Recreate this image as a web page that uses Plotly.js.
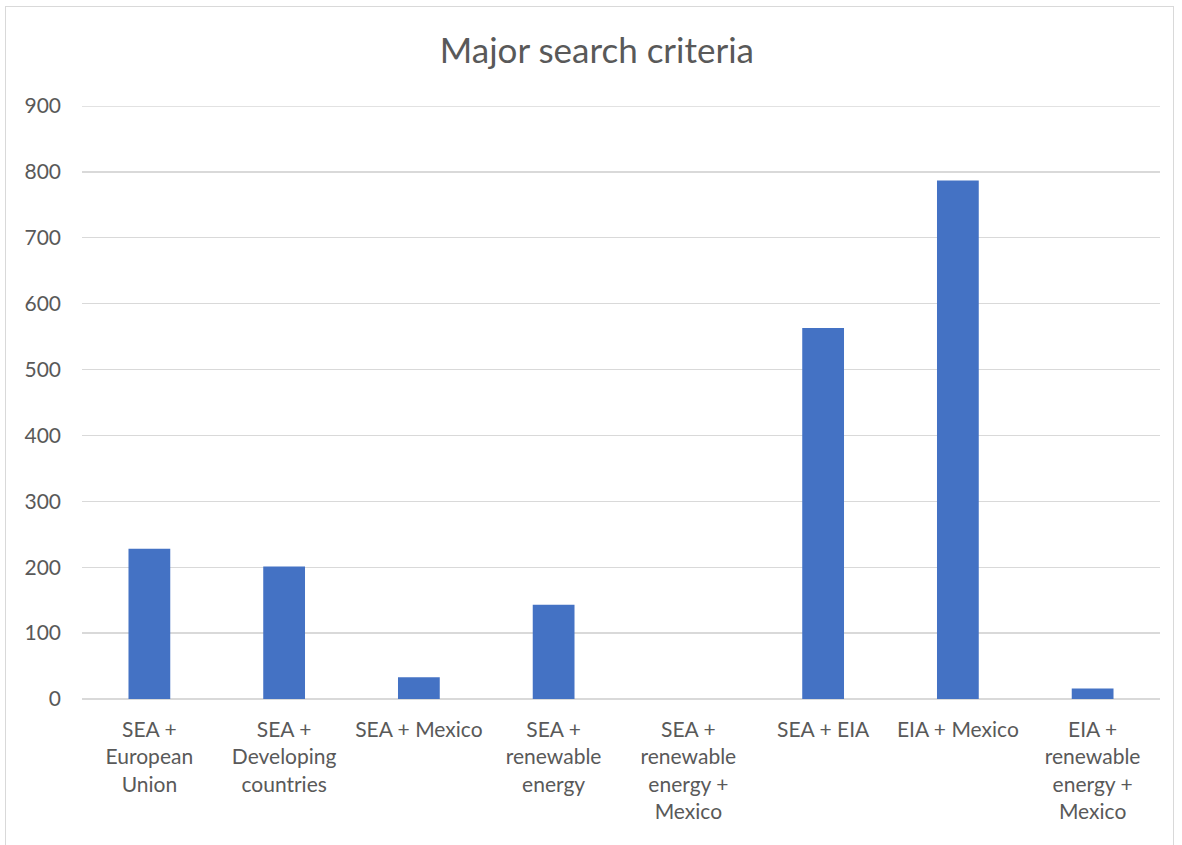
<!DOCTYPE html>
<html><head><meta charset="utf-8">
<script src="https://cdn.plot.ly/plotly-3.0.1.min.js"></script>
<style>
html,body{margin:0;padding:0;background:#fff;overflow:hidden;}
#frame{position:absolute;left:5px;top:6px;width:1169px;height:860px;border:1px solid #d9d9d9;box-sizing:border-box;pointer-events:none;z-index:10;}
#chart{position:absolute;left:0;top:0;width:1182px;height:845px;}
</style></head>
<body>
<div id="chart"></div><div id="frame"></div>
<script>
const categories = [
  "SEA +<br>European<br>Union",
  "SEA +<br>Developing<br>countries",
  "SEA + Mexico",
  "SEA +<br>renewable<br>energy",
  "SEA +<br>renewable<br>energy +<br>Mexico",
  "SEA + EIA",
  "EIA + Mexico",
  "EIA +<br>renewable<br>energy +<br>Mexico"
];
const values = [228, 201, 33, 143, 0, 563, 787, 16];
const yTicks = [0, 100, 200, 300, 400, 500, 600, 700, 800, 900];
const chartTitle = "Major search criteria";

const fontFam = "Lato, 'Open Sans', sans-serif";
Plotly.newPlot('chart', [{
  type: 'bar',
  x: categories,
  y: values,
  marker: {color: '#4472c4'},
  width: 0.31,
  hoverinfo: 'none'
}], {
  width: 1182, height: 845,
  margin: {l: 82, r: 22, t: 106, b: 146},
  paper_bgcolor: '#fff', plot_bgcolor: '#fff',
  title: {text: chartTitle, x: 0.505, xanchor: 'center', y: 0.94, yanchor: 'middle',
          font: {family: fontFam, size: 35, color: '#595959'}},
  showlegend: false,
  xaxis: {
    tickfont: {family: fontFam, size: 21, color: '#595959'},
    showgrid: false, showline: false, ticks: '', zeroline: false,
    ticklabelstandoff: 16, tickangle: 0
  },
  yaxis: {
    range: [0, 900], tickvals: yTicks, ticktext: yTicks.map(String),
    tickfont: {family: fontFam, size: 21, color: '#595959'},
    gridcolor: '#d9d9d9', gridwidth: 1.3, zeroline: true, zerolinecolor: '#d9d9d9', zerolinewidth: 2,
    ticks: '', showline: false, ticklabelstandoff: 20
  },
  shapes: [{type: 'line', xref: 'paper', yref: 'y', x0: 0, x1: 1, y0: yTicks[yTicks.length - 1], y1: yTicks[yTicks.length - 1],
            line: {color: '#d9d9d9', width: 1.3}, layer: 'below'}],
  bargap: 0.69
}, {displayModeBar: false, staticPlot: true});
</script>
</body></html>
